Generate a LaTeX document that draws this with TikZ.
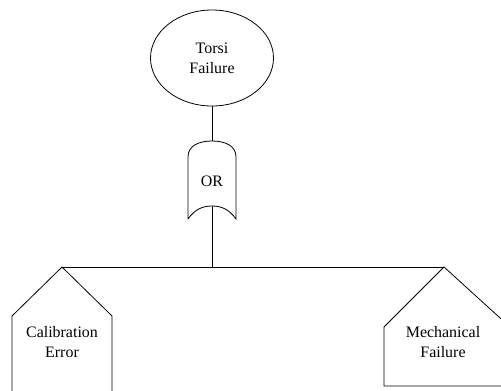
\documentclass[tikz,border=0pt]{standalone}
\usepackage{fontspec}
\setmainfont{Liberation Serif}
\usetikzlibrary{shapes.geometric}
\tikzset{
  ftline/.style={line width=0.8pt},
  ftlabel/.style={align=center,font=\fontsize{16}{20}\selectfont}
}
\begin{document}
\begin{tikzpicture}[x=1bp,y=-1bp]
\useasboundingbox (0,0) rectangle (501,390);
\clip (0,0) rectangle (501,390);
% Top event
\node[ftline,draw,ellipse,minimum width=123bp,minimum height=96bp,ftlabel] (torsi) at (212,58) {Torsi\\Failure};
% OR gate
\node[ftlabel] (orgate) at (212,181) {OR};
\coordinate (gtop) at (212,141);
\coordinate (gbot) at (212,206);
\draw[ftline] (188,219) -- (188,157) .. controls (188,145) and (200,141) .. (gtop)
  .. controls (224,141) and (236,145) .. (236,157) -- (236,219)
  .. controls (229,209) and (221,206) .. (gbot)
  .. controls (203,206) and (195,209) .. (188,219);
% Basic events (house shapes)
\coordinate (calapex) at (62,267);
\coordinate (mechapex) at (444,267);
\draw[ftline] (12,400) -- (12,316) -- (calapex) -- (112,316) -- (112,400);
\node[ftlabel] (calib) at (62,342) {Calibration\\Error};
\draw[ftline] (510,386) -- (384,386) -- (384,327) -- (mechapex) -- (510,327);
\node[ftlabel] (mech) at (443,342) {Mechanical\\Failure};
% Connectors
\coordinate (bus) at (212,267);
\draw[ftline] (torsi.south) -- (gtop);
\draw[ftline] (gbot) -- (bus);
\draw[ftline] (calapex) -- (mechapex);
\end{tikzpicture}
\end{document}
